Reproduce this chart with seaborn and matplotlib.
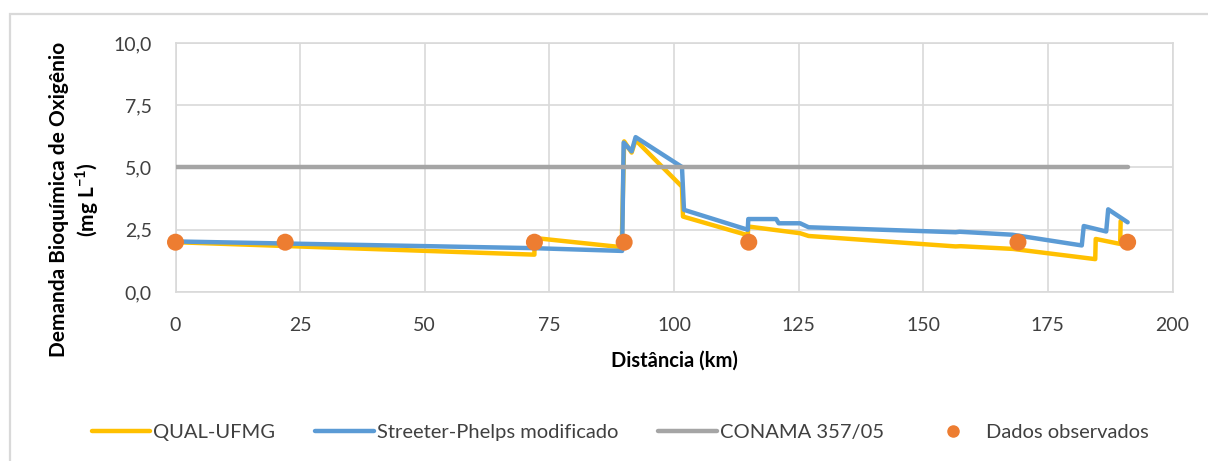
import matplotlib
matplotlib.use("Agg")
import matplotlib.pyplot as plt
import seaborn as sns
import pandas as pd
from matplotlib.ticker import FuncFormatter, MultipleLocator
from matplotlib.patches import Rectangle
from matplotlib.lines import Line2D

# ---- data ----
qual_x = [0, 72, 72, 89.5, 90, 91.5, 92.3, 101.6, 101.8, 114.8, 114.9, 125.3, 127, 156.5, 157.5, 168, 184.5, 184.6, 189.5, 189.6]
qual_y = [2.0, 1.5, 2.17, 1.8, 6.05, 5.6, 6.1, 4.23, 3.03, 2.28, 2.63, 2.36, 2.25, 1.83, 1.84, 1.73, 1.32, 2.13, 1.93, 2.85]

sp_x = [0, 72, 89.6, 89.9, 91.5, 92.3, 101.6, 102.0, 114.8, 114.9, 120.5, 121, 125.3, 127, 156.5, 157.3, 167.9, 181.8, 182.2, 186.7, 187.1, 191]
sp_y = [2.03, 1.76, 1.65, 6.0, 5.65, 6.22, 5.02, 3.3, 2.5, 2.93, 2.93, 2.76, 2.76, 2.6, 2.4, 2.42, 2.3, 1.87, 2.65, 2.43, 3.32, 2.8]

conama_x = [0, 191]
conama_y = [5.0, 5.0]

obs_x = [0, 22, 72, 90, 115, 169, 191]
obs_y = [2.0, 2.0, 2.0, 2.0, 2.0, 2.0, 2.0]

labels = ["QUAL-UFMG", "Streeter-Phelps modificado", "CONAMA 357/05", "Dados observados"]
colors = ["#FFC000", "#5B9BD5", "#A5A5A5", "#ED7D31"]

sns.set_theme(style="white")
plt.rcParams['font.family'] = ['Lato', 'DejaVu Sans']
plt.rcParams['mathtext.fontset'] = 'custom'
plt.rcParams['mathtext.rm'] = 'Lato'
plt.rcParams['mathtext.bf'] = 'Lato:bold'

fig = plt.figure(figsize=(12.08, 4.61), dpi=100)
ax = fig.add_axes([175.5/1208, 1-292/461, (1172.5-175.5)/1208, (292-43)/461])

df_q = pd.DataFrame({"x": qual_x, "y": qual_y})
df_s = pd.DataFrame({"x": sp_x, "y": sp_y})
df_c = pd.DataFrame({"x": conama_x, "y": conama_y})
df_o = pd.DataFrame({"x": obs_x, "y": obs_y})

lw = 3.2
sns.lineplot(data=df_q, x="x", y="y", ax=ax, sort=False, estimator=None, color=colors[0], lw=lw, zorder=3)
sns.lineplot(data=df_s, x="x", y="y", ax=ax, sort=False, estimator=None, color=colors[1], lw=lw, zorder=4)
sns.lineplot(data=df_c, x="x", y="y", ax=ax, sort=False, estimator=None, color=colors[2], lw=lw, zorder=5)
sns.scatterplot(data=df_o, x="x", y="y", ax=ax, color=colors[3], s=150, edgecolor="none", zorder=6, clip_on=False)

ax.set_xlim(0, 200)
ax.set_ylim(0, 10)
ax.xaxis.set_major_locator(MultipleLocator(25))
ax.yaxis.set_major_locator(MultipleLocator(2.5))
ax.yaxis.set_major_formatter(FuncFormatter(lambda v, p: f"{v:.1f}".replace(".", ",")))
ax.grid(True, color="#D9D9D9", lw=1.2)
ax.set_axisbelow(True)
for s in ax.spines.values():
    s.set_visible(True)
    s.set_color("#D9D9D9")
    s.set_linewidth(1.2)
ax.tick_params(axis="both", length=0, labelsize=14, colors="#404040")
ax.tick_params(axis="y", pad=17)
ax.tick_params(axis="x", pad=18)
for t in ax.get_xticklabels() + ax.get_yticklabels():
    t.set_color("#404040")

ax.set_xlabel("Distância (km)", fontsize=14.5, fontweight="bold", color="#000000", labelpad=12)
ax.set_ylabel("Demanda Bioquímica de Oxigênio\n(mg L$^{\\mathbf{-1}}$)", fontsize=15, fontweight="bold",
              color="#000000", linespacing=1.2)
ax.yaxis.set_label_coords(-0.0745, 0.37)

handles = [Line2D([], [], color=colors[0], lw=lw),
           Line2D([], [], color=colors[1], lw=lw),
           Line2D([], [], color=colors[2], lw=lw),
           Line2D([], [], color=colors[3], marker="o", ls="none", ms=8)]
leg = fig.legend(handles, labels, loc="center", bbox_to_anchor=(620/1208, 1-432/461), ncol=4,
                 frameon=False, fontsize=14.5, handlelength=2.9, handletextpad=0.15,
                 columnspacing=2.0)
for t in leg.get_texts():
    t.set_color("#404040")

fig.patches.append(Rectangle((10/1208, -0.1), 1.2, 1-14/461+0.1, transform=fig.transFigure,
                             fill=False, edgecolor="#D9D9D9", lw=1.6))

fig.savefig("out.png", dpi=100)
